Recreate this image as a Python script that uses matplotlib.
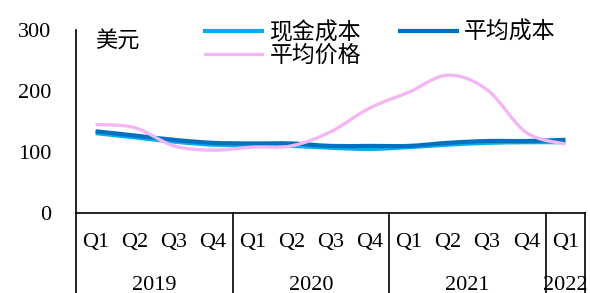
import matplotlib
matplotlib.use("Agg")
import matplotlib.pyplot as plt
import numpy as np
from matplotlib.path import Path
from matplotlib.patches import PathPatch
from matplotlib.lines import Line2D

plt.rcParams['font.family'] = ['Liberation Serif', 'Noto Sans CJK SC']

quarters = ['Q1', 'Q2', 'Q3', 'Q4', 'Q1', 'Q2', 'Q3', 'Q4', 'Q1', 'Q2', 'Q3', 'Q4', 'Q1']
years = ['2019', '2020', '2021', '2022']
year_spans = [(0, 3), (4, 7), (8, 11), (12, 12)]

cash_cost = [131, 124, 117, 112, 111, 110, 107, 105, 108, 112, 115, 116, 116]
avg_cost = [134, 127, 120, 115, 114, 114, 110, 110, 110, 115, 118, 118, 120]
avg_price = [145, 140, 110, 103, 108, 110, 133, 172, 198, 226, 202, 132, 113]

names = ['现金成本', '平均价格', '平均成本']
colors = {'现金成本': '#00AEEF', '平均成本': '#0070C0', '平均价格': '#F4B6F4'}
widths = {'现金成本': 3.0, '平均成本': 3.0, '平均价格': 2.4}


def smooth_path(y):
    # catmull-rom through the points, as bezier segments
    x = np.arange(len(y), dtype=float)
    y = np.asarray(y, dtype=float)
    pts = np.column_stack([x, y])
    verts = [pts[0]]
    codes = [Path.MOVETO]
    n = len(pts)
    for i in range(n - 1):
        p0 = pts[i - 1] if i > 0 else pts[i]
        p1 = pts[i]
        p2 = pts[i + 1]
        p3 = pts[i + 2] if i + 2 < n else pts[i + 1]
        c1 = p1 + (p2 - p0) / 6.0
        c2 = p2 - (p3 - p1) / 6.0
        verts += [c1, c2, p2]
        codes += [Path.CURVE4] * 3
    return Path(verts, codes)


fig = plt.figure(figsize=(5.9, 2.93), dpi=100)
ax = fig.add_axes([76 / 590, 80 / 293, 509 / 590, 183 / 293])

series = {'现金成本': cash_cost, '平均成本': avg_cost, '平均价格': avg_price}
for name in ['现金成本', '平均成本', '平均价格']:
    ax.add_patch(PathPatch(smooth_path(series[name]), fill=False,
                           edgecolor=colors[name], lw=widths[name],
                           capstyle='butt'))

ax.set_xlim(-0.5, len(quarters) - 0.5)
ax.set_ylim(0, 300)
ax.set_yticks([0, 100, 200, 300])
ax.tick_params(axis='y', length=0, pad=18, labelsize=16)
ax.set_xticks([])
for s in ['top', 'right']:
    ax.spines[s].set_visible(False)
for s in ['left', 'bottom']:
    ax.spines[s].set_linewidth(1.2)
    ax.spines[s].set_color('black')

trans = ax.get_xaxis_transform()
for i, q in enumerate(quarters):
    ax.text(i, -0.16, q, transform=trans, ha='center', va='center',
            fontsize=16, clip_on=False)
for yr, (a, b) in zip(years, year_spans):
    ax.text((a + b) / 2, -0.395, yr, transform=trans, ha='center',
            va='center', fontsize=16, clip_on=False)
bounds = [-0.5, 3.5, 7.5, 11.5, 12.5]
for bx in bounds:
    ax.plot([bx, bx], [0, -0.45], transform=trans, color='black', lw=1.2,
            clip_on=False)

ax.text(0.037, 0.94, '美元', transform=ax.transAxes, ha='left', va='center',
        fontsize=16, family=['Noto Sans CJK SC'])

handles = [Line2D([], [], color=colors[n], lw=widths[n]) for n in names]
fig.legend(handles, names, loc='upper left', bbox_to_anchor=(196 / 590, 0.96),
           ncol=2, frameon=False, prop={'family': 'Noto Sans CJK SC', 'size': 16.5},
           handlelength=2.5, handletextpad=0.3, columnspacing=1.7,
           labelspacing=0.0, borderaxespad=0)

fig.savefig('out.png', dpi=100)
